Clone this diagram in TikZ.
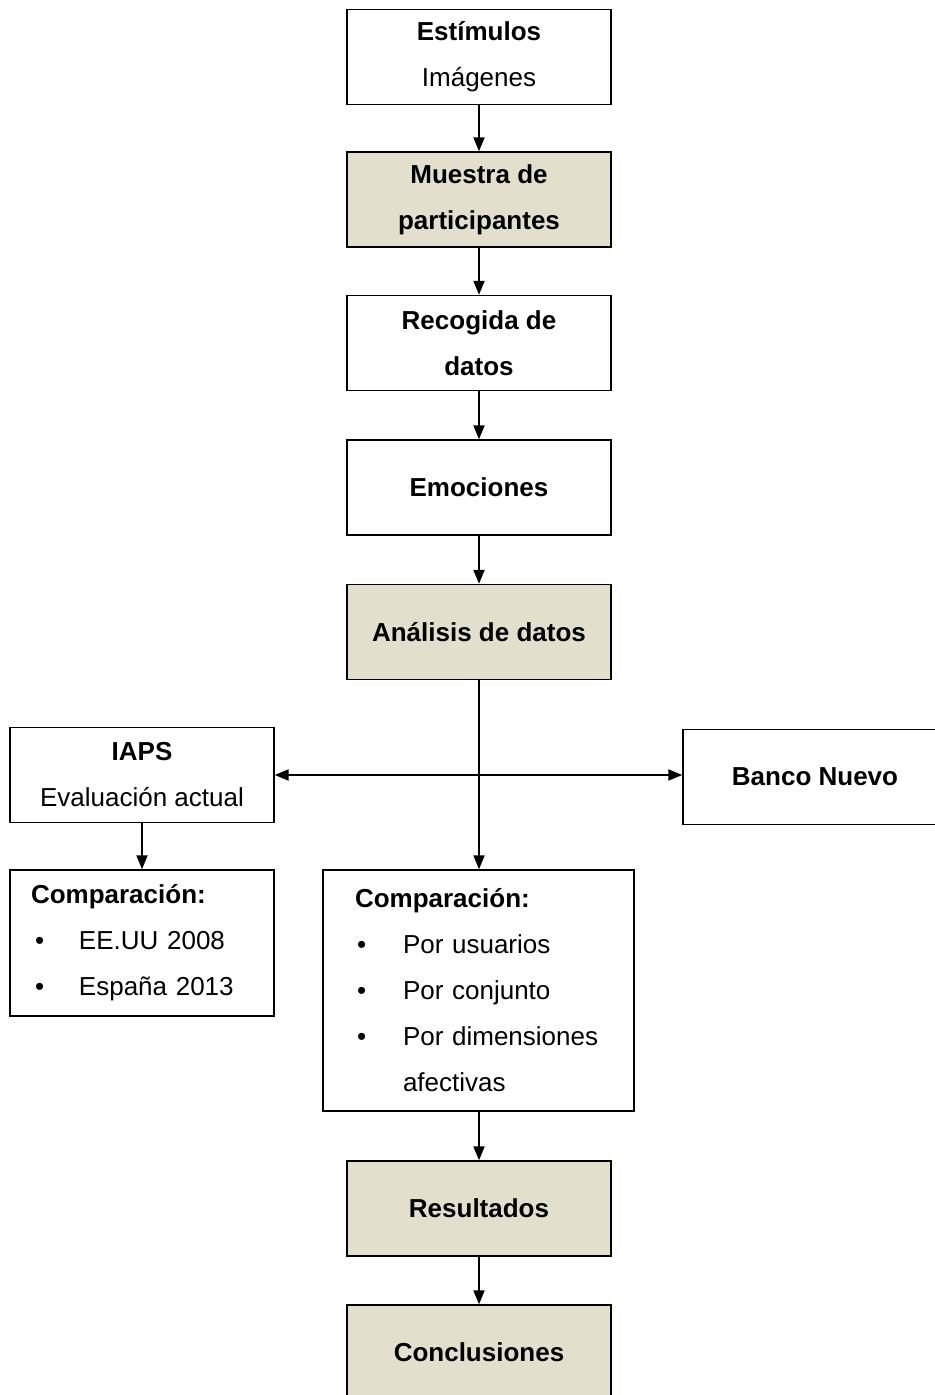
\documentclass[tikz,border=0pt]{standalone}
\usepackage{fontspec}
\setmainfont{Liberation Sans}
\usepackage{xcolor}
\usetikzlibrary{arrows.meta}
\definecolor{beige}{HTML}{E2DFCC}

\begin{document}
\begin{tikzpicture}[x=0.5pt,y=-0.5pt,
  box/.style={draw,line width=0.7pt,minimum width=132pt,minimum height=47.5pt,
    inner sep=0pt,align=center,font=\fontsize{13}{23}\selectfont},
  hl/.style={box,fill=beige},
  listbox/.style={draw,line width=0.7pt,inner sep=0pt,align=left,
    font=\fontsize{13}{23}\selectfont},
  arr/.style={-{Triangle[length=7pt,width=5.5pt]},line width=1pt}]
  \useasboundingbox (0,0) rectangle (934,1395);
  % Main column
  \node[box] (est) at (479,57) {\textbf{Estímulos}\\Imágenes};
  \node[hl]  (mue) at (479,199.5) {\textbf{Muestra de}\\\textbf{participantes}};
  \node[box] (rec) at (479,343) {\textbf{Recogida de}\\\textbf{datos}};
  \node[box] (emo) at (479,487.5) {\textbf{Emociones}};
  \node[hl]  (ana) at (479,632) {\textbf{Análisis de datos}};
  % Side boxes
  \node[box] (iaps) at (142,775) {\textbf{IAPS}\\Evaluación actual};
  \node[box] (banco) at (815,777) {\textbf{Banco Nuevo}};
  \coordinate (hub) at (479,775);
  % Comparisons
  \node[listbox,minimum width=132pt,minimum height=73pt,text width=111pt] (cmpA) at (142,943)
    {\textbf{Comparación:}\\
     \hspace*{2pt}\makebox[22pt][l]{\textbullet}EE.UU 2008\\
     \hspace*{2pt}\makebox[22pt][l]{\textbullet}España 2013};
  \node[listbox,minimum width=155.5pt,minimum height=120.5pt,text width=123.5pt] (cmpB) at (478.5,990.5)
    {\textbf{Comparación:}\\
     \hspace*{1pt}\makebox[23pt][l]{\textbullet}Por usuarios\\
     \hspace*{1pt}\makebox[23pt][l]{\textbullet}Por conjunto\\
     \hspace*{1pt}\makebox[23pt][l]{\textbullet}Por dimensiones\\
     \hspace*{24pt}afectivas};
  % Results
  \node[hl] (res) at (479,1208.5) {\textbf{Resultados}};
  \node[hl] (con) at (479,1352.5) {\textbf{Conclusiones}};
  % Connectors
  \draw[arr] (est) -- (mue);
  \draw[arr] (mue) -- (rec);
  \draw[arr] (rec) -- (emo);
  \draw[arr] (emo) -- (ana);
  \draw[arr] (ana.south) -- (ana.south |- cmpB.north);
  \draw[arr] (hub) -- (iaps.east);
  \draw[arr] (hub) -- (banco.west |- hub);
  \draw[arr] (iaps) -- (cmpA);
  \draw[arr] (cmpB.south -| res) -- (res);
  \draw[arr] (res) -- (con);
\end{tikzpicture}
\end{document}
